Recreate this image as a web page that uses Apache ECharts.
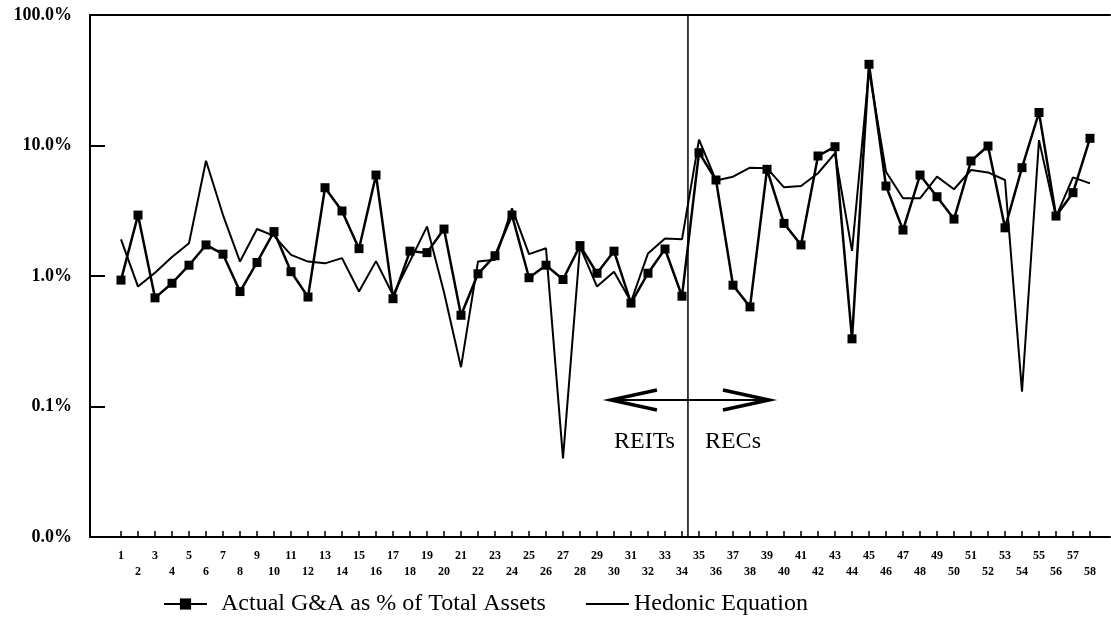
<!DOCTYPE html>
<html><head><meta charset="utf-8">
<script src="https://cdn.jsdelivr.net/npm/echarts@6/dist/echarts.min.js"></script>
<style>html,body{margin:0;padding:0;background:#fff}#c{width:1111px;height:621px}</style>
</head><body><div id="c"></div>
<script>
const categories = ['1','2','3','4','5','6','7','8','9','10','11','12','13','14','15','16','17','18','19','20','21','22','23','24','25','26','27','28','29','30','31','32','33','34','35','36','37','38','39','40','41','42','43','44','45','46','47','48','49','50','51','52','53','54','55','56','57','58'];
// values in percent of total assets
const actualGA = [0.93,2.93,0.68,0.88,1.21,1.73,1.47,0.76,1.27,2.19,
  1.08,0.69,4.75,3.15,1.62,5.94,0.67,1.55,1.51,2.29,
  0.50,1.04,1.43,2.93,0.97,1.21,0.94,1.71,1.05,1.55,
  0.62,1.05,1.61,0.70,8.81,5.44,0.85,0.58,6.57,2.53,
  1.73,8.31,9.79,0.33,41.9,4.89,2.25,5.94,4.05,2.73,
  7.61,9.91,2.34,6.76,17.9,2.88,4.35,11.35];
const hedonic = [1.91,0.83,1.06,1.40,1.78,7.65,2.93,1.29,2.29,2.03,
  1.45,1.29,1.25,1.37,0.76,1.30,0.715,1.30,2.39,0.75,
  0.20,1.29,1.33,3.30,1.47,1.63,0.040,1.68,0.83,1.08,
  0.635,1.49,1.94,1.91,11.1,5.4,5.77,6.76,6.7,4.78,
  4.89,6.13,8.72,1.56,37.9,6.3,3.94,3.94,5.77,4.62,
  6.49,6.22,5.44,0.13,11.0,2.85,5.7,5.13];
const yMin = 0.01, yMax = 100;
const seriesNames = ['Actual G&A as % of Total Assets', 'Hedonic Equation'];
const groupLabels = ['REITs', 'RECs'];

const serif = 'Liberation Serif';
const chart = echarts.init(document.getElementById('c'), null, {renderer: 'canvas'});
chart.setOption({
  backgroundColor: '#fff',
  animation: false,
  grid: [
    {left: 90, top: 15, width: 1020, height: 522},
    {left: 112.5, top: 15, width: 986, height: 522}
  ],
  xAxis: [
    {type: 'value', gridIndex: 0, min: 0, max: 1, position: 'bottom',
     axisLine: {show: true, lineStyle: {color: '#000', width: 2}},
     axisTick: {show: false}, axisLabel: {show: false}, splitLine: {show: false}},
    {type: 'value', gridIndex: 0, min: 0, max: 1, position: 'top',
     axisLine: {show: true, lineStyle: {color: '#000', width: 2}},
     axisTick: {show: false}, axisLabel: {show: false}, splitLine: {show: false}},
    {type: 'category', gridIndex: 1, data: categories, boundaryGap: true,
     axisLine: {show: false},
     axisTick: {show: true, inside: true, length: 6, alignWithLabel: true, interval: 0,
                lineStyle: {color: '#000', width: 1.5}},
     axisLabel: {interval: 0, margin: 11, color: '#000', fontFamily: serif, fontWeight: 'bold',
                 fontSize: 12, lineHeight: 16,
                 formatter: (v, i) => (i % 2 === 0 ? v : '\n' + v)},
     splitLine: {show: false}}
  ],
  yAxis: [
    {type: 'log', gridIndex: 0, logBase: 10, min: yMin, max: yMax,
     axisLine: {show: true, lineStyle: {color: '#000', width: 2}},
     axisTick: {show: true, inside: true, length: 15, lineStyle: {color: '#000', width: 2}},
     axisLabel: {margin: 18, color: '#000', fontFamily: serif, fontWeight: 'bold', fontSize: 18,
                 formatter: v => v.toFixed(1) + '%'},
     splitLine: {show: false}, minorTick: {show: false}},
    {type: 'log', gridIndex: 1, logBase: 10, min: yMin, max: yMax, show: false}
  ],
  legend: {
    left: 158, top: 587, itemGap: 40, itemWidth: 43, itemHeight: 14,
    textStyle: {fontFamily: serif, fontSize: 24, color: '#000', padding: [0, 0, 0, 9]},
    data: [
      {name: seriesNames[0]},
      {name: seriesNames[1], icon: 'path://M0,0H47V2H0Z', textStyle: {padding: [0, 0, 0, 0]}}
    ]
  },
  series: [
    {name: seriesNames[1], type: 'line', xAxisIndex: 2, yAxisIndex: 1, data: hedonic,
     symbol: 'none', lineStyle: {color: '#000', width: 2}, itemStyle: {color: '#000'}, z: 2},
    {name: seriesNames[0], type: 'line', xAxisIndex: 2, yAxisIndex: 1, data: actualGA,
     symbol: 'rect', symbolSize: 9, showAllSymbol: true,
     lineStyle: {color: '#000', width: 2.5}, itemStyle: {color: '#000'}, z: 3}
  ]
});

// Divider / annotation placed via the data axes
const x34 = chart.convertToPixel({xAxisIndex: 2}, '34');
const x35 = chart.convertToPixel({xAxisIndex: 2}, '35');
const xd = x34 + 0.35 * (x35 - x34);
const yTop = chart.convertToPixel({yAxisIndex: 1}, yMax);
const yBot = chart.convertToPixel({yAxisIndex: 1}, yMin);
const ya = chart.convertToPixel({yAxisIndex: 1}, 0.112);
const yt = chart.convertToPixel({yAxisIndex: 1}, 0.054);
const L = xd - 77, R = xd + 81;
chart.setOption({
  graphic: [
    {type: 'line', shape: {x1: xd, y1: yTop, x2: xd, y2: yBot}, style: {stroke: '#000', lineWidth: 1.5}, z: 10},
    {type: 'line', shape: {x1: L + 2, y1: ya, x2: R - 2, y2: ya}, style: {stroke: '#000', lineWidth: 2}, z: 10},
    {type: 'polyline', shape: {points: [[L + 46, ya - 10], [L, ya], [L + 46, ya + 10]]},
     style: {stroke: '#000', lineWidth: 3.5, fill: null}, z: 10},
    {type: 'polyline', shape: {points: [[R - 46, ya - 10], [R, ya], [R - 46, ya + 10]]},
     style: {stroke: '#000', lineWidth: 3.5, fill: null}, z: 10},
    {type: 'text', x: xd - 13, y: yt, style: {text: groupLabels[0], font: '24px "Liberation Serif"', fill: '#000',
     textAlign: 'right', textVerticalAlign: 'middle'}, z: 10},
    {type: 'text', x: xd + 17, y: yt, style: {text: groupLabels[1], font: '24px "Liberation Serif"', fill: '#000',
     textAlign: 'left', textVerticalAlign: 'middle'}, z: 10}
  ]
});
</script>
</body></html>
